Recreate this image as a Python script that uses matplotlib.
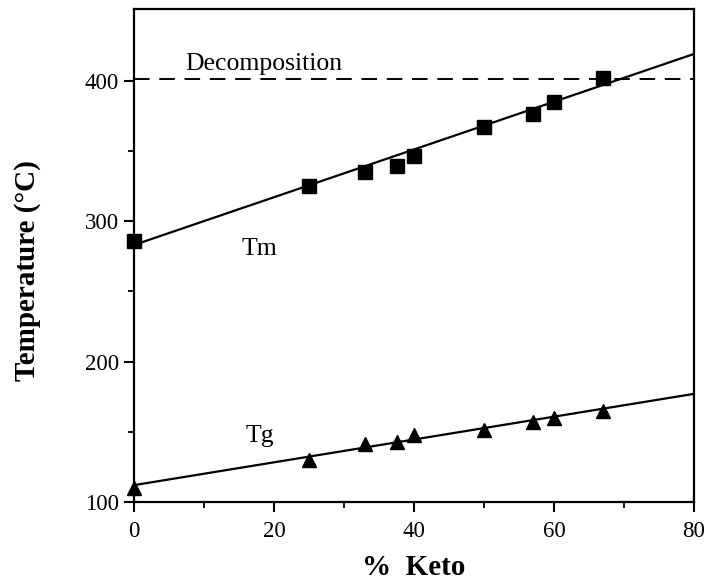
import matplotlib
matplotlib.use("Agg")
import matplotlib.pyplot as plt
import numpy as np

plt.rcParams['font.family'] = ['Liberation Serif', 'DejaVu Serif']

keto = [0, 25, 33, 37.5, 40, 50, 57, 60, 67]
tm = [286, 325, 335, 339, 346, 367, 376, 385, 402]
tg = [110, 130, 141, 143, 148, 151, 157, 160, 165]
tm_fit_x = [0, 80]
tm_fit_y = [283, 419]
tg_fit_x = [0, 80]
tg_fit_y = [112, 177]
decomp_x = [0, 80]
decomp_y = [401, 401]

fig = plt.figure(figsize=(7.07, 5.85), dpi=100)
ax = fig.add_axes([134/707, 1-502/585, (694-134)/707, (502-9)/585])

ax.plot(decomp_x, decomp_y, color='black', lw=1.4, ls=(0, (8, 5)))
ax.plot(tm_fit_x, tm_fit_y, color='black', lw=1.6)
ax.plot(tg_fit_x, tg_fit_y, color='black', lw=1.6)
ax.plot(keto, tm, 's', color='black', ms=9.5, clip_on=False)
ax.plot(keto, tg, '^', color='black', ms=9.5, clip_on=False)

ax.text(7.3, 407.5, 'Decomposition', fontsize=18.5, va='baseline', ha='left')
ax.text(15.3, 276, 'Tm', fontsize=18.5, va='baseline', ha='left')
ax.text(15.9, 143, 'Tg', fontsize=18.5, va='baseline', ha='left')

ax.set_xlim(0, 80)
ax.set_ylim(100, 451)
ax.set_xticks([0, 20, 40, 60, 80])
ax.set_xticks([10, 30, 50, 70], minor=True)
ax.set_yticks([100, 200, 300, 400])
ax.set_yticks([150, 250, 350], minor=True)
ax.tick_params(axis='both', which='major', direction='out', length=7, width=1.5,
               labelsize=16.5, pad=4)
ax.tick_params(axis='x', which='major', pad=7)
ax.tick_params(axis='both', which='minor', direction='out', length=4, width=1.3)
for s in ax.spines.values():
    s.set_linewidth(1.6)

ax.set_xlabel('%  Keto', fontsize=21, fontweight='bold')
ax.set_ylabel('Temperature (°C)', fontsize=21, fontweight='bold')
ax.xaxis.set_label_coords(0.5, -0.106)
ax.yaxis.set_label_coords(-0.166, 0.4686)

fig.savefig('out.png', dpi=100)
